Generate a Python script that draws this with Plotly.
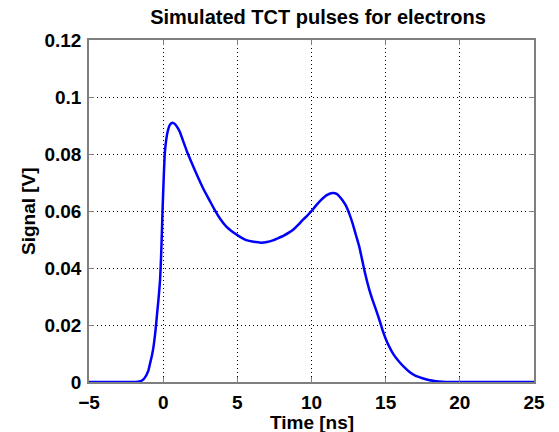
import plotly.graph_objects as go

# Simulated TCT current pulse for electrons (time in ns, signal in V)
time_ns = [-5, -2.0, -1.7, -1.4, -1.2, -1.0, -0.88, -0.75, -0.65, -0.55, -0.47, -0.4,
           -0.32, -0.21, -0.12, -0.04, 0.04, 0.11, 0.2, 0.3, 0.45, 0.62, 0.8, 1.0,
           1.12, 1.35, 1.61, 1.9, 2.13, 2.4, 2.69, 3.1, 3.47, 3.85, 4.26, 4.6, 4.93,
           5.3, 5.6, 6.1, 6.6, 7.0, 7.4, 7.8, 8.1, 8.5, 8.8, 9.1, 9.4, 9.7, 10.0,
           10.3, 10.65, 11.0, 11.4, 11.7, 11.9, 12.1, 12.33, 12.55, 12.77, 13.0,
           13.22, 13.4, 13.56, 13.9, 14.1, 14.35, 14.6, 14.79, 15.0, 15.24, 15.55,
           15.91, 16.25, 16.59, 17.0, 17.48, 17.9, 18.38, 18.8, 19.2, 25]
signal_v = [0, 0, 0.0001, 0.0006, 0.0018, 0.004, 0.0066, 0.0095, 0.0124, 0.0165, 0.0206,
            0.0245, 0.0288, 0.0358, 0.047, 0.0604, 0.072, 0.0802, 0.0848, 0.0878,
            0.0902, 0.0910, 0.0905, 0.0890, 0.0878, 0.0845, 0.0808, 0.0772, 0.0744,
            0.0712, 0.0680, 0.0640, 0.0604, 0.0572, 0.0545, 0.0530, 0.0518, 0.0506,
            0.0498, 0.0492, 0.0489, 0.0491, 0.0497, 0.0506, 0.0513, 0.0525, 0.0536,
            0.0551, 0.0568, 0.0583, 0.0600, 0.0619, 0.0639, 0.0655, 0.0663, 0.0660,
            0.0650, 0.0637, 0.0618, 0.0590, 0.0557, 0.0515, 0.0475, 0.0432, 0.0393,
            0.0323, 0.0290, 0.0253, 0.0214, 0.0182, 0.0152, 0.0124, 0.0095, 0.0071,
            0.0052, 0.0036, 0.0022, 0.0013, 0.0007, 0.0003, 0.0001, 0, 0]

x_ticks = [-5, 0, 5, 10, 15, 20, 25]
y_ticks = [0, 0.02, 0.04, 0.06, 0.08, 0.1, 0.12]
y_tick_text = ["0", "0.02", "0.04", "0.06", "0.08", "0.1", "0.12"]

FONT = "Liberation Sans, Arial, sans-serif"
BOLD19 = dict(family=FONT, size=19, color="#000000", weight="bold")

fig = go.Figure(
    go.Scatter(
        x=time_ns, y=signal_v, mode="lines",
        line=dict(color="#0000ff", width=2.5, shape="spline", smoothing=0.6),
        hoverinfo="x+y",
    )
)

axis_common = dict(
    showline=True, linecolor="#7f7f7f", linewidth=1.5, mirror="ticks",
    ticks="inside", ticklen=5, tickcolor="#7f7f7f", tickwidth=1,
    showgrid=True, gridcolor="#000000", gridwidth=1, griddash="1px,3px",
    zeroline=False, automargin=False,
    tickfont=BOLD19,
)

fig.update_xaxes(
    range=[-5, 25], tickvals=x_ticks,
    ticktext=[str(v) if v >= 0 else "\u2212" + str(-v) for v in x_ticks],
    ticklabelstandoff=2,
    **axis_common,
)
fig.update_yaxes(
    range=[0, 0.12], tickvals=y_ticks, ticktext=y_tick_text,
    ticklabelstandoff=2,
    **axis_common,
)

fig.update_layout(
    width=559, height=432,
    margin=dict(l=89, r=25, t=40, b=50),
    paper_bgcolor="#ffffff", plot_bgcolor="#ffffff",
    showlegend=False,
    title=dict(text="Simulated TCT pulses for electrons",
               font=dict(family=FONT, size=20, color="#000000", weight="bold"),
               x=318 / 559, xanchor="center", xref="container",
               y=1 - 17 / 432, yanchor="middle", yref="container"),
    annotations=[
        dict(text="Time [ns]", font=BOLD19, showarrow=False,
             xref="paper", x=0.5, xanchor="center",
             yref="paper", y=-40 / 342, yanchor="middle"),
        dict(text="Signal [V]", font=BOLD19, showarrow=False, textangle=-90,
             xref="paper", x=-61 / 445, xanchor="center",
             yref="paper", y=0.5, yanchor="middle"),
    ],
)

fig.write_html("out.html")
